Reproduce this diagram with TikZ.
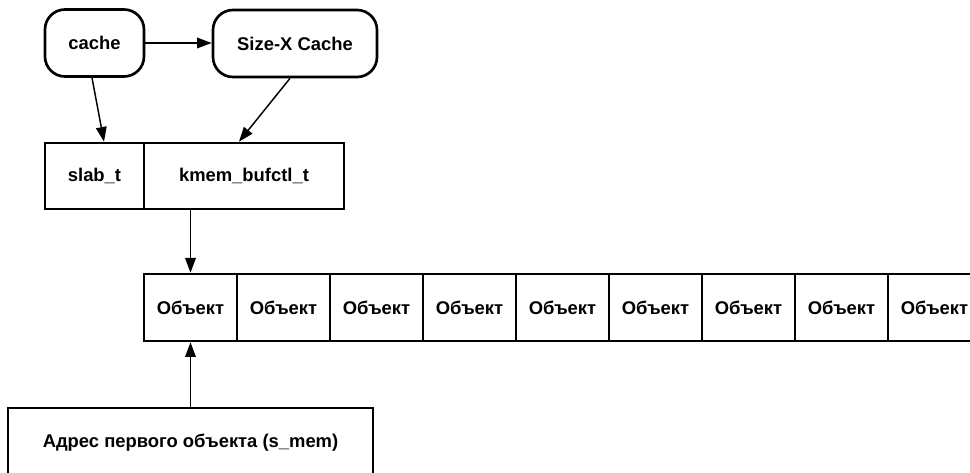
\documentclass[tikz,border=0pt]{standalone}
\usepackage{fontspec}
\setmainfont{Liberation Sans}
\usetikzlibrary{arrows.meta,calc}
\begin{document}
\begin{tikzpicture}[x=0.75pt,y=-0.75pt,
  lbl/.style={font=\fontsize{13.8}{16}\selectfont\bfseries, inner sep=0pt},
  roundbox/.style={lbl, draw, line width=2pt, rounded corners=15pt, minimum height=67*0.75pt},
  cell/.style={lbl, draw, line width=2pt, minimum height=66*0.75pt},
  objcell/.style={lbl, draw, line width=2pt, minimum width=93*0.75pt, minimum height=67*0.75pt},
  arr/.style={line width=1.1pt, -{Triangle[length=11pt,width=8pt]}}]
\useasboundingbox (0,0) rectangle (970,473);

% top: the cache and the size-specific cache
\node[roundbox, minimum width=99*0.75pt] (cache) at (94.5,43) {cache};
\node[roundbox, minimum width=164*0.75pt] (sizex) at (295,43.5) {Size-X Cache};

% slab descriptor
\node[cell, minimum width=99*0.75pt] (slab) at (94.5,176) {slab\_t};
\node[cell, minimum width=200*0.75pt] (kmem) at (244,176) {kmem\_bufctl\_t};

% row of objects
\foreach \i in {1,...,9} {
  \node[objcell] (obj\i) at ({144+46.5+93*(\i-1)},307.5) {Объект};
}

% first object address
\node[cell, minimum width=365*0.75pt, minimum height=70*0.75pt] (addr) at (190.5,443) {Адрес первого объекта (s\_mem)};

% connectors
\draw[arr] (cache.east) -- (cache.east -| sizex.west);
\draw[arr] ($(cache.south)+(-2.5,0)$) -- ($(slab.north)+(9.5,0)$);
\draw[arr] ($(sizex.south)+(-5,0)$) -- ($(kmem.north)+(-5,0)$);
\draw[arr] (obj1.north |- kmem.south) -- (obj1.north);
\draw[arr] (addr.north) -- (obj1.south);
\end{tikzpicture}
\end{document}
